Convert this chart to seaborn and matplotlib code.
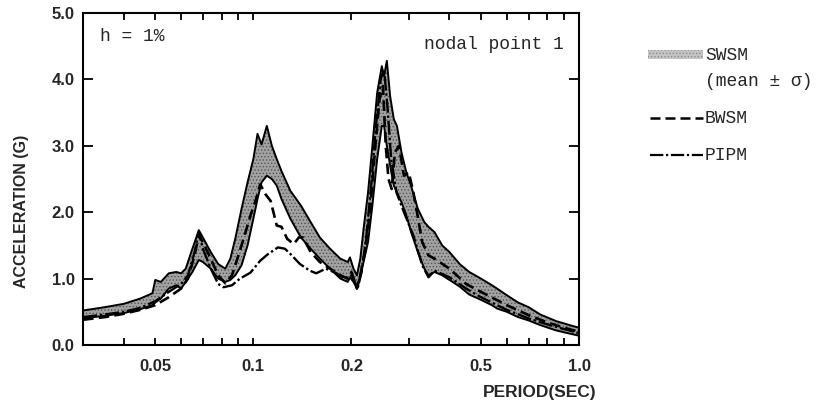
"""
Response spectrum at nodal point 1, SWSM band (mean +/- sigma) against BWSM and PIPM.
"""

import pandas as pd
import matplotlib
matplotlib.use('Agg')
import matplotlib.pyplot as plt
from matplotlib.lines import Line2D
from matplotlib.patches import Rectangle
from matplotlib.ticker import FixedLocator, FixedFormatter, NullFormatter
import seaborn as sns

# SWSM band, period (sec) with upper (mean + sigma) and lower (mean - sigma) acceleration (G)
swsm_period = [0.030, 0.035, 0.040, 0.045, 0.049, 0.050, 0.052, 0.055, 0.058, 0.060,
               0.062, 0.065, 0.068, 0.070, 0.074, 0.078, 0.082, 0.085, 0.088, 0.092,
               0.096, 0.100, 0.103, 0.106, 0.110, 0.114, 0.118, 0.122, 0.130, 0.140,
               0.150, 0.160, 0.172, 0.185, 0.195, 0.198, 0.203, 0.208, 0.213, 0.218,
               0.225, 0.232, 0.240, 0.248, 0.252, 0.257, 0.263, 0.270, 0.276, 0.285,
               0.295, 0.305, 0.320, 0.335, 0.345, 0.360, 0.380, 0.400, 0.430, 0.460,
               0.500, 0.540, 0.560, 0.600, 0.650, 0.700, 0.760, 0.850, 0.920, 1.000]
swsm_upper = [0.52, 0.57, 0.62, 0.70, 0.78, 0.98, 0.95, 1.08, 1.10, 1.08,
              1.15, 1.45, 1.73, 1.62, 1.40, 1.22, 1.15, 1.30, 1.60, 2.05,
              2.45, 2.80, 3.18, 3.02, 3.30, 3.00, 2.80, 2.62, 2.32, 2.10,
              1.85, 1.62, 1.45, 1.30, 1.25, 1.32, 1.15, 1.05, 1.30, 1.75,
              2.30, 3.00, 3.80, 4.20, 4.05, 4.28, 3.75, 3.40, 3.30, 2.90,
              2.60, 2.40, 2.05, 1.85, 1.78, 1.70, 1.50, 1.40, 1.22, 1.10,
              1.00, 0.90, 0.85, 0.75, 0.64, 0.57, 0.46, 0.36, 0.31, 0.26]
swsm_lower = [0.40, 0.44, 0.48, 0.54, 0.60, 0.64, 0.70, 0.85, 0.90, 0.85,
              0.95, 1.10, 1.28, 1.25, 1.15, 1.00, 0.95, 0.98, 1.05, 1.20,
              1.50, 1.90, 2.20, 2.45, 2.55, 2.50, 2.40, 2.20, 1.90, 1.62,
              1.45, 1.30, 1.15, 1.00, 0.95, 1.02, 0.95, 0.85, 1.05, 1.25,
              1.55, 2.10, 2.80, 3.30, 3.30, 3.00, 2.70, 2.40, 2.30, 2.15,
              1.95, 1.70, 1.40, 1.15, 1.05, 1.10, 1.05, 0.98, 0.88, 0.76,
              0.68, 0.60, 0.55, 0.50, 0.42, 0.37, 0.30, 0.22, 0.18, 0.14]

# BWSM curve
bwsm_period = [0.030, 0.035, 0.040, 0.045, 0.050, 0.055, 0.060, 0.063, 0.066, 0.068,
               0.070, 0.074, 0.078, 0.082, 0.086, 0.090, 0.094, 0.098, 0.102, 0.105,
               0.109, 0.113, 0.118, 0.122, 0.127, 0.133, 0.138, 0.142, 0.150, 0.160,
               0.172, 0.185, 0.195, 0.200, 0.205, 0.208, 0.213, 0.220, 0.228, 0.236,
               0.244, 0.250, 0.255, 0.260, 0.266, 0.272, 0.280, 0.290, 0.300, 0.310,
               0.318, 0.330, 0.345, 0.360, 0.400, 0.450, 0.500, 0.600, 0.700, 0.800,
               0.900, 1.000]
bwsm_accel = [0.38, 0.42, 0.47, 0.53, 0.60, 0.72, 0.85, 1.00, 1.35, 1.65,
              1.55, 1.30, 1.05, 0.93, 1.05, 1.35, 1.65, 1.95, 2.20, 2.42,
              2.27, 2.17, 1.80, 1.78, 1.60, 1.52, 1.62, 1.62, 1.40, 1.25,
              1.15, 1.05, 1.00, 1.10, 0.95, 0.85, 1.05, 1.40, 2.00, 2.90,
              3.70, 3.90, 3.00, 2.50, 2.35, 2.90, 3.00, 2.55, 2.60, 2.30,
              2.00, 1.55, 1.35, 1.30, 1.15, 0.92, 0.80, 0.60, 0.45, 0.34,
              0.26, 0.20]

# PIPM curve
pipm_period = [0.030, 0.035, 0.040, 0.045, 0.050, 0.055, 0.060, 0.063, 0.066, 0.068,
               0.070, 0.074, 0.078, 0.081, 0.086, 0.091, 0.098, 0.105, 0.111, 0.119,
               0.125, 0.130, 0.139, 0.149, 0.156, 0.167, 0.180, 0.190, 0.200, 0.205,
               0.209, 0.215, 0.222, 0.230, 0.238, 0.246, 0.252, 0.258, 0.265, 0.275,
               0.290, 0.310, 0.330, 0.345, 0.360, 0.400, 0.450, 0.500, 0.550, 0.600,
               0.700, 0.800, 0.900, 1.000]
pipm_accel = [0.42, 0.46, 0.50, 0.56, 0.66, 0.80, 0.92, 1.05, 1.40, 1.70,
              1.45, 1.15, 0.92, 0.87, 0.90, 1.00, 1.09, 1.27, 1.37, 1.47,
              1.45, 1.37, 1.22, 1.12, 1.08, 1.15, 1.08, 1.00, 1.05, 0.95,
              0.85, 1.10, 1.60, 2.40, 3.30, 4.00, 4.15, 3.60, 2.80, 2.30,
              2.00, 1.65, 1.20, 1.02, 1.12, 1.02, 0.85, 0.72, 0.62, 0.53,
              0.40, 0.31, 0.24, 0.18]

x_major = [0.05, 0.1, 0.2, 0.5, 1.0]
x_major_labels = ['0.05', '0.1', '0.2', '0.5', '1.0']
x_minor = [0.04, 0.06, 0.07, 0.08, 0.09, 0.3, 0.4, 0.6, 0.7, 0.8, 0.9]
y_ticks = [0, 1, 2, 3, 4, 5]
y_tick_labels = ['0.0', '1.0', '2.0', '3.0', '4.0', '5.0']

sns.set_style('ticks')
plt.rcParams['font.family'] = ['Liberation Sans', 'DejaVu Sans']
mono = ['Liberation Mono', 'DejaVu Sans Mono']

BAND_FACE = '#a2a2a2'
BAND_HATCH = '#555555'
BWSM_DASH = (4, 2)
PIPM_DASH = (6, 1.2, 1, 1.2)

fig = plt.figure(figsize=(8.37, 4.08), dpi=100)
ax = fig.add_axes([0.0992, 0.1544, 0.5926, 0.8137])

# SWSM band, stippled grey with dark boundaries
plt.rcParams['hatch.color'] = BAND_HATCH
plt.rcParams['hatch.linewidth'] = 0.6
ax.fill_between(swsm_period, swsm_lower, swsm_upper, facecolor=BAND_FACE,
                edgecolor=BAND_HATCH, hatch='.....', linewidth=0, zorder=1)
ax.plot(swsm_period, swsm_upper, color='black', lw=1.4, zorder=2)
ax.plot(swsm_period, swsm_lower, color='black', lw=1.4, zorder=2)

bwsm = pd.DataFrame({'period': bwsm_period, 'accel': bwsm_accel})
pipm = pd.DataFrame({'period': pipm_period, 'accel': pipm_accel})
sns.lineplot(data=bwsm, x='period', y='accel', ax=ax, color='black', lw=1.9,
             zorder=3).lines[-1].set_dashes(BWSM_DASH)
sns.lineplot(data=pipm, x='period', y='accel', ax=ax, color='black', lw=1.7,
             zorder=3).lines[-1].set_dashes(PIPM_DASH)

ax.set_xscale('log')
ax.set_xlim(0.03, 1.0)
ax.set_ylim(0, 5)
ax.xaxis.set_major_locator(FixedLocator(x_major))
ax.xaxis.set_major_formatter(FixedFormatter(x_major_labels))
ax.xaxis.set_minor_locator(FixedLocator(x_minor))
ax.xaxis.set_minor_formatter(NullFormatter())
ax.set_yticks(y_ticks)
ax.set_yticklabels(y_tick_labels)
ax.tick_params(which='both', direction='in', top=True, right=True,
               width=1.3, color='black')
ax.tick_params(axis='x', which='both', length=5, pad=10)
ax.tick_params(axis='y', length=7, pad=6)
for lab in ax.get_xticklabels() + ax.get_yticklabels():
    lab.set_fontsize(12)
    lab.set_fontweight('bold')
for sp in ax.spines.values():
    sp.set_linewidth(1.5)
    sp.set_color('black')
ax.set_xlabel('')
ax.set_ylabel('')

fig.text(22 / 837, 1 - 211 / 408, 'ACCELERATION (G)', rotation=90, fontsize=11.5,
         fontweight='bold', ha='center', va='center')
fig.text(597 / 837, 1 - 392 / 408, 'PERIOD(SEC)', fontsize=12.5, fontweight='bold',
         ha='right', va='center')

ax.text(0.035, 0.93, 'h = 1%', transform=ax.transAxes, fontsize=13, family=mono,
        va='center', ha='left')
ax.text(0.97, 0.905, 'nodal point 1', transform=ax.transAxes, fontsize=13,
        family=mono, va='center', ha='right')

# legend drawn by hand beside the axes
def fx(px):
    return px / 837


def fy(py):
    return 1 - py / 408


fig.patches.append(Rectangle((fx(648), fy(59)), fx(703) - fx(648), fy(50) - fy(59),
                             transform=fig.transFigure, facecolor='#c4c4c4',
                             edgecolor='#8a8a8a', hatch='.....', linewidth=0))
fig.text(fx(705), fy(55), 'SWSM', fontsize=13, family=mono, va='center')
fig.text(fx(705), fy(81), '(mean \u00b1 \u03c3)', fontsize=13, family=mono, va='center')
fig.lines.append(Line2D([fx(650), fx(703)], [fy(118), fy(118)], transform=fig.transFigure,
                        color='black', lw=1.8, dashes=BWSM_DASH))
fig.text(fx(705), fy(118), 'BWSM', fontsize=13, family=mono, va='center')
fig.lines.append(Line2D([fx(650), fx(703)], [fy(155), fy(155)], transform=fig.transFigure,
                        color='black', lw=1.6, dashes=PIPM_DASH))
fig.text(fx(705), fy(155), 'PIPM', fontsize=13, family=mono, va='center')

fig.savefig('out.png', dpi=100)
